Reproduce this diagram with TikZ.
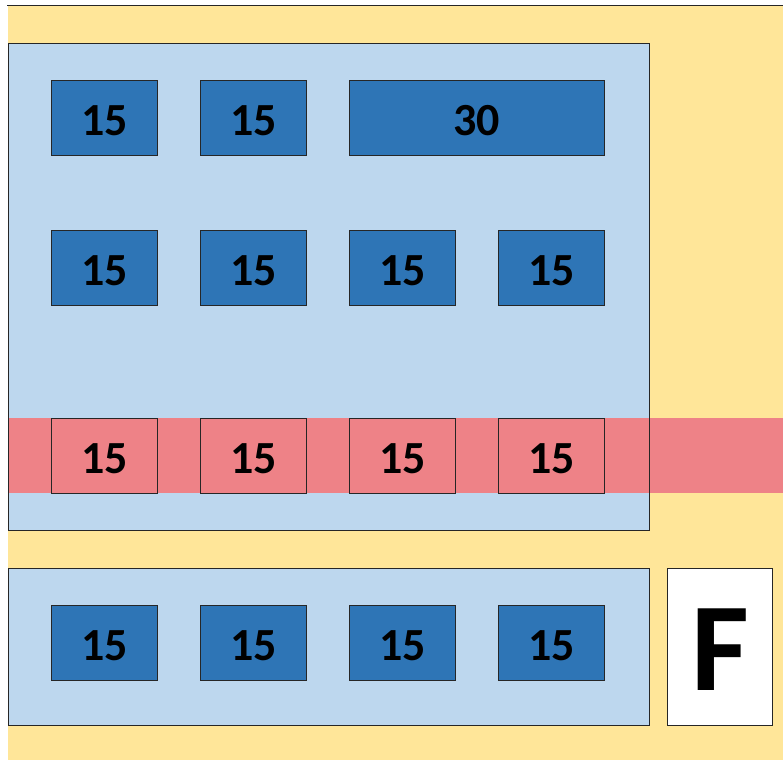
\documentclass[tikz,border=0pt]{standalone}
\usepackage{fontspec}
\setmainfont{Carlito}
\definecolor{bgyellow}{HTML}{FFE699}
\definecolor{panelblue}{HTML}{BDD7EE}
\definecolor{boxblue}{HTML}{2E75B6}
\definecolor{bandred}{HTML}{EE8287}
\tikzset{
  panel/.style={draw=black!85, line width=0.9pt, fill=panelblue, anchor=north west, inner sep=0pt, minimum width=641pt},
  seat/.style={draw=black!85, line width=0.8pt, fill=boxblue, anchor=north west, inner sep=0pt, minimum width=106pt, minimum height=75pt, text height=35pt, text depth=0pt, font=\fontsize{46}{46}\selectfont\bfseries},
  redseat/.style={seat, fill=bandred},
  fbox/.style={draw=black!85, line width=0.9pt, fill=white, anchor=north west, inner sep=0pt, minimum width=105pt, minimum height=157pt, text height=88pt, text depth=0pt, font=\fontsize{126}{126}\selectfont\bfseries}
}
\begin{document}
\begin{tikzpicture}[x=1pt,y=-1pt]
\useasboundingbox (0,0) rectangle (783,760);
% background
\fill[bgyellow] (8,5) rectangle (783,760);
\coordinate (tl) at (7,5);
\coordinate (tr) at (783,5);
\draw[line width=0.9pt, black!85] (tl) -- (tr);
% main panel
\node[panel, minimum height=487pt] (main) at (8,43) {};
% red band
\fill[bandred] (8,418) rectangle (783,493);
\draw[line width=0.9pt, black!85] (main.north west) rectangle (main.south east);
% bottom panel
\node[panel, minimum height=157pt] (lower) at (8,568) {};
% F box
\node[fbox] (f) at (667,568) {F};
% row 1
\node[seat] (r1a) at (51,80) {15};
\node[seat] (r1b) at (200,80) {15};
\node[seat, minimum width=255pt] (r1c) at (349,80) {30};
% row 2
\node[seat] (r2a) at (51,230) {15};
\node[seat] (r2b) at (200,230) {15};
\node[seat] (r2c) at (349,230) {15};
\node[seat] (r2d) at (498,230) {15};
% row 3 (red band)
\node[redseat] (r3a) at (51,418) {15};
\node[redseat] (r3b) at (200,418) {15};
\node[redseat] (r3c) at (349,418) {15};
\node[redseat] (r3d) at (498,418) {15};
% row 4
\node[seat] (r4a) at (51,605) {15};
\node[seat] (r4b) at (200,605) {15};
\node[seat] (r4c) at (349,605) {15};
\node[seat] (r4d) at (498,605) {15};
\end{tikzpicture}
\end{document}
